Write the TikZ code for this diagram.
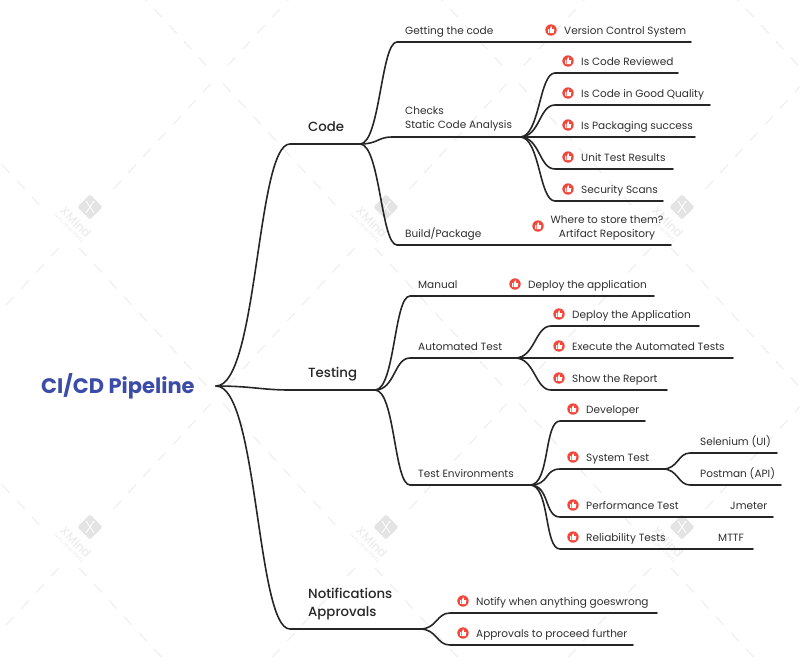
\documentclass[tikz,border=0pt]{standalone}
\usepackage{fontspec}
\setmainfont{Poppins}
\newfontfamily\medfont{Poppins Medium}
\definecolor{inkc}{HTML}{2E2E2E}
\definecolor{rootc}{HTML}{3B4BA8}
\definecolor{likec}{HTML}{F4473C}
\definecolor{wmarkc}{HTML}{ECECEC}
\definecolor{wlogoc}{HTML}{E4E4E4}
\begin{document}
\begin{tikzpicture}[
  x=1pt, y=-1pt,
  topic/.style={anchor=base west, inner sep=0pt, text=inkc, font=\fontsize{10.5}{14}\selectfont},
  main/.style={anchor=base west, inner sep=0pt, text=black!85, font=\medfont\fontsize{13.3}{18}\selectfont},
  link/.style={line width=1.6pt, black!85, line cap=round},
  bend/.style={out=0, in=180, out distance=#1*1pt, in distance=#1*0.8pt},
  like/.pic={
    \fill[likec] (0,0) circle (5.7);
    \fill[white] (-3.3,-0.7) rectangle (-1.9,3.1);
    \fill[white] (-1.4,-0.7) -- (0.1,-3.6) -- (1.1,-3.2) -- (0.7,-1) -- (3.3,-1) -- (2.6,3.1) -- (-1.4,3.1) -- cycle;
  }
]
  \useasboundingbox (0,0) rectangle (800,664);

  % Watermark
  \begin{scope}
    \clip (0,0) rectangle (800,664);
    \foreach \cx in {69,365,661} {
      \foreach \cy in {-83,237,557} {
        \foreach \sx/\sy/\t in {-1/-1/0.2, 1/-1/0.3, -1/1/0.07, 1/1/0.07} {
          \draw[wmarkc, line width=1pt, dash pattern=on 11pt off 11pt]
            (\cx+\t*\sx*148,\cy+\t*\sy*160) -- (\cx+0.97*\sx*148,\cy+0.97*\sy*160);
        }
      }
    }
    \foreach \cx in {69,365,661} {
      \foreach \cy in {237,557} {
        \fill[wlogoc, rounded corners=1.5pt, rotate around={45:(\cx+21,\cy-30)}]
          (\cx+12,\cy-39) rectangle (\cx+30,\cy-21);
        \draw[white, line width=0.9pt] (\cx+17,\cy-36) -- (\cx+25,\cy-24) (\cx+25,\cy-36) -- (\cx+17,\cy-24);
        \node[wmarkc, rotate=-45, font=\medfont\fontsize{12}{12}\selectfont] (wm\cx\cy) at (\cx+7,\cy-15) {XMind};
        \node[wmarkc, rotate=-45, font=\fontsize{4.8}{5}\selectfont] (ev\cx\cy) at (\cx,\cy-9) {Evaluation Mode};
      }
    }
  \end{scope}

  % Root
  \node[anchor=base west, inner sep=0pt, text=rootc, font=\bfseries\fontsize{21}{24}\selectfont] (root) at (41,393) {CI/CD Pipeline};
  \coordinate (hub) at (216,386);

  % Code
  \node[main] (code) at (308,131) {Code};
  \coordinate (codeL) at (290,144);
  \coordinate (codeR) at (360,144);
  \draw[link] (hub) to[bend=42] (codeL) -- (codeR);

  \node[topic] (getcode) at (405,34) {Getting the code};
  \coordinate (getL) at (397,42);
  \coordinate (getR) at (691,42);
  \draw[link] (codeR) to[bend=20] (getL) -- (getR);
  \pic (l1) at (551,30) {like};
  \node[topic] (vcs) at (564,34) {Version Control System};

  \node[topic, align=left, anchor=south west] (checks) at (405,131.5) {Checks\\Static Code Analysis};
  \coordinate (chkL) at (392,137);
  \coordinate (chkR) at (520,137);
  \draw[link] (codeR) to[bend=18] (chkL) -- (chkR);

  \node[topic] (build) at (405,237) {Build/Package};
  \coordinate (bldL) at (397,245);
  \coordinate (bldR) at (671,245);
  \draw[link] (codeR) to[bend=20] (bldL) -- (bldR);
  \pic (l2) at (538,226) {like};
  \node[topic, align=center, anchor=south] (store) at (607,240.5) {Where to store them?\\Artifact Repository};

  \coordinate (rev) at (555,73);
  \coordinate (qual) at (555,105);
  \coordinate (unit) at (555,169);
  \coordinate (scan) at (555,201);
  \coordinate (revR) at (678,73);
  \coordinate (qualR) at (710,105);
  \coordinate (packR) at (695,137);
  \coordinate (unitR) at (673,169);
  \coordinate (scanR) at (663,201);
  \draw[link] (chkR) to[bend=20] (rev) -- (revR);
  \draw[link] (chkR) to[bend=20] (qual) -- (qualR);
  \draw[link] (chkR) -- (packR);
  \draw[link] (chkR) to[bend=20] (unit) -- (unitR);
  \draw[link] (chkR) to[bend=20] (scan) -- (scanR);
  \pic (l3) at (568,61) {like};
  \pic (l4) at (568,93) {like};
  \pic (l5) at (568,125) {like};
  \pic (l6) at (568,157) {like};
  \pic (l7) at (568,189) {like};
  \node[topic] (t3) at (581,65) {Is Code Reviewed};
  \node[topic] (t4) at (581,97) {Is Code in Good Quality};
  \node[topic] (t5) at (581,129) {Is Packaging success};
  \node[topic] (t6) at (581,161) {Unit Test Results};
  \node[topic] (t7) at (581,193) {Security Scans};

  % Testing
  \node[main] (testing) at (308,377) {Testing};
  \coordinate (tstL) at (290,390);
  \coordinate (tstR) at (375,390);
  \draw[link] (hub) to[bend=35] (tstL) -- (tstR);

  \node[topic] (manual) at (418,288) {Manual};
  \coordinate (manL) at (410,296);
  \coordinate (manR) at (654,296);
  \draw[link] (tstR) to[bend=20] (manL) -- (manR);
  \pic (l8) at (515,284) {like};
  \node[topic] (t8) at (528,288) {Deploy the application};

  \node[topic] (auto) at (418,350) {Automated Test};
  \coordinate (autL) at (410,358);
  \coordinate (autR) at (515,358);
  \draw[link] (tstR) to[bend=20] (autL) -- (autR);

  \node[topic] (envs) at (418,477) {Test Environments};
  \coordinate (envL) at (410,485);
  \coordinate (envR) at (530,485);
  \draw[link] (tstR) to[bend=20] (envL) -- (envR);

  \coordinate (dep) at (551,326);
  \coordinate (depR) at (699,326);
  \coordinate (exeR) at (733,358);
  \coordinate (rep) at (551,390);
  \coordinate (repR) at (667,390);
  \draw[link] (autR) to[bend=20] (dep) -- (depR);
  \draw[link] (autR) -- (exeR);
  \draw[link] (autR) to[bend=20] (rep) -- (repR);
  \pic (l9) at (559,314) {like};
  \pic (l10) at (559,346) {like};
  \pic (l11) at (559,378) {like};
  \node[topic] (t9) at (572,318) {Deploy the Application};
  \node[topic] (t10) at (572,350) {Execute the Automated Tests};
  \node[topic] (t11) at (572,382) {Show the Report};

  \coordinate (dev) at (560,421);
  \coordinate (devR) at (645,421);
  \coordinate (sys) at (560,469);
  \coordinate (sysR) at (663,469);
  \coordinate (perf) at (560,517);
  \coordinate (perfR) at (773,517);
  \coordinate (rel) at (560,549);
  \coordinate (relR) at (753,549);
  \draw[link] (envR) to[bend=20] (dev) -- (devR);
  \draw[link] (envR) to[bend=20] (sys) -- (sysR);
  \draw[link] (envR) to[bend=20] (perf) -- (perfR);
  \draw[link] (envR) to[bend=20] (rel) -- (relR);
  \pic (l12) at (573,409) {like};
  \pic (l13) at (573,457) {like};
  \pic (l14) at (573,505) {like};
  \pic (l15) at (573,537) {like};
  \node[topic] (t12) at (586,413) {Developer};
  \node[topic] (t13) at (586,461) {System Test};
  \node[topic] (t14) at (586,509) {Performance Test};
  \node[topic] (t15) at (586,541) {Reliability Tests};
  \node[topic] (jm) at (730,509) {Jmeter};
  \node[topic] (mt) at (718,541) {MTTF};

  \coordinate (sel) at (690,453);
  \coordinate (selR) at (777,453);
  \coordinate (pos) at (690,485);
  \coordinate (posR) at (781,485);
  \draw[link] (sysR) to[bend=15] (sel) -- (selR);
  \draw[link] (sysR) to[bend=15] (pos) -- (posR);
  \node[topic] (se) at (700,445) {Selenium (UI)};
  \node[topic] (po) at (700,477) {Postman (API)};

  % Notifications
  \node[main, align=left, anchor=south west] (notes) at (308,620) {Notifications\\Approvals};
  \coordinate (notL) at (290,629);
  \coordinate (notR) at (420,629);
  \draw[link] (hub) to[bend=42] (notL) -- (notR);

  \coordinate (ntf) at (450,613);
  \coordinate (ntfR) at (657,613);
  \coordinate (apr) at (450,645);
  \coordinate (aprR) at (633,645);
  \draw[link] (notR) to[bend=17] (ntf) -- (ntfR);
  \draw[link] (notR) to[bend=17] (apr) -- (aprR);
  \pic (l16) at (463,601) {like};
  \pic (l17) at (463,633) {like};
  \node[topic] (t16) at (476,605) {Notify when anything goeswrong};
  \node[topic] (t17) at (476,637) {Approvals to proceed further};
\end{tikzpicture}
\end{document}
